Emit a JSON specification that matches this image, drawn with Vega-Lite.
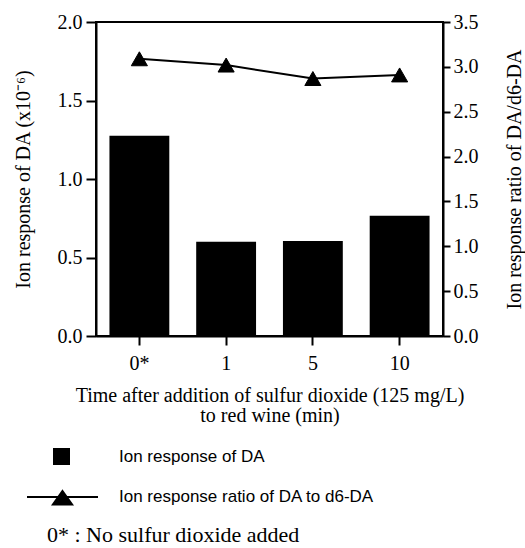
{
  "$schema": "https://vega.github.io/schema/vega-lite/v6.json",
  "width": 347,
  "height": 314,
  "autosize": {"type": "none"},
  "padding": {"left": 96, "top": 22, "right": 82, "bottom": 212},
  "background": "white",
  "title": {
    "text": "0* : No sulfur dioxide added",
    "orient": "bottom",
    "anchor": "start",
    "dx": 34,
    "offset": 16,
    "font": "Liberation Serif",
    "fontSize": 22,
    "fontWeight": "normal",
    "color": "black"
  },
  "config": {
    "view": {"stroke": "black", "strokeWidth": 2},
    "point": {"shape": "triangle-up"},
    "axis": {
      "grid": false,
      "domainColor": "black",
      "domainWidth": 2,
      "tickColor": "black",
      "tickWidth": 2,
      "labelColor": "black",
      "titleColor": "black",
      "labelFont": "Liberation Serif",
      "titleFont": "Liberation Serif",
      "labelFontSize": 20,
      "titleFontSize": 20,
      "titleFontWeight": "normal"
    },
    "legend": {
      "labelFont": "Liberation Sans",
      "labelFontSize": 17,
      "labelColor": "black",
      "labelLimit": 400,
      "padding": 0,
      "orient": "none"
    }
  },
  "data": {
    "values": [
      {"time": "0*", "da": 1.276, "ratio": 3.09},
      {"time": "1", "da": 0.6, "ratio": 3.02},
      {"time": "5", "da": 0.605, "ratio": 2.87},
      {"time": "10", "da": 0.766, "ratio": 2.91}
    ]
  },
  "encoding": {
    "x": {
      "field": "time",
      "type": "nominal",
      "sort": null,
      "scale": {"paddingInner": 0.31, "paddingOuter": 0.155},
      "axis": {
        "labelAngle": 0,
        "tickSize": 9,
        "labelPadding": 8,
        "title": ["Time after addition of sulfur dioxide (125 mg/L)", "to red wine (min)"],
        "titlePadding": 12,
        "titleLineHeight": 20
      }
    }
  },
  "layer": [
    {
      "mark": {"type": "bar", "color": "black"},
      "encoding": {
        "y": {
          "field": "da",
          "type": "quantitative",
          "scale": {"domain": [0, 2]},
          "axis": {
            "orient": "left",
            "values": [0, 0.5, 1, 1.5, 2],
            "format": ".1f",
            "tickSize": 10,
            "labelPadding": 4,
            "title": "Ion response of DA (x10⁻⁶)",
            "titlePadding": 24
          }
        },
        "color": {
          "datum": "Ion response of DA",
          "scale": {"range": ["black"]},
          "legend": {
            "title": null,
            "orient": "none",
            "legendX": -44,
            "legendY": 425,
            "symbolType": "square",
            "symbolSize": 289,
            "labelOffset": 48
          }
        }
      }
    },
    {
      "encoding": {
        "y": {
          "field": "ratio",
          "type": "quantitative",
          "scale": {"domain": [0, 3.5]},
          "axis": {
            "orient": "right",
            "values": [0, 0.5, 1, 1.5, 2, 2.5, 3, 3.5],
            "format": ".1f",
            "tickSize": 7,
            "labelPadding": 3,
            "title": "Ion response ratio of DA/d6-DA",
            "titleAngle": 270,
            "titlePadding": 46
          }
        }
      },
      "layer": [
        {"mark": {"type": "line", "color": "black", "strokeWidth": 2}},
        {
          "mark": {"type": "point", "filled": true, "color": "black", "size": 260, "opacity": 1, "strokeWidth": 1},
          "encoding": {
            "stroke": {
              "datum": "Ion response ratio of DA to d6-DA",
              "scale": {"range": ["black"]},
              "legend": {
                "title": null,
                "orient": "none",
                "legendX": -70,
                "legendY": 438.5,
                "symbolType": "M-1,0H1M0,-0.17L0.27,0.21L-0.27,0.21Z",
                "symbolSize": 5041,
                "symbolStrokeWidth": 2,
                "symbolFillColor": "black",
                "labelOffset": 20
              }
            }
          }
        }
      ]
    }
  ],
  "resolve": {"scale": {"y": "independent"}}
}
